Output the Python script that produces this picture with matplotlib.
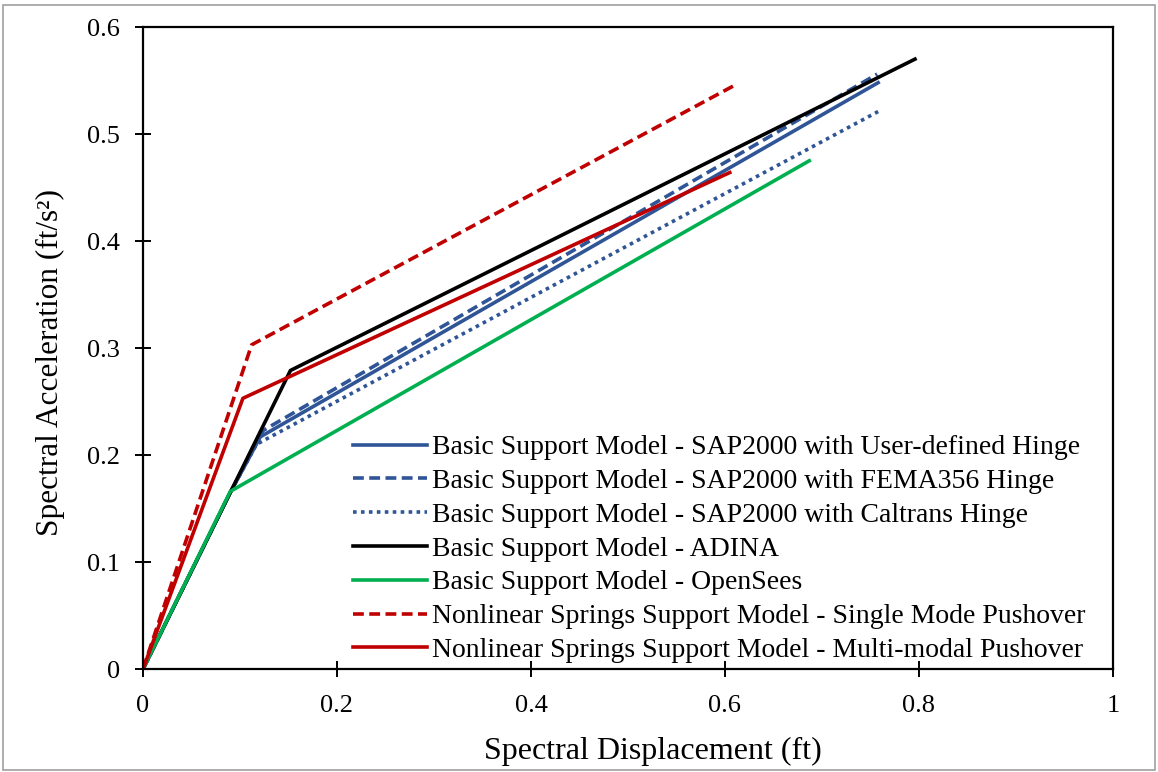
import matplotlib
matplotlib.use("Agg")
import matplotlib.pyplot as plt
from matplotlib.patches import Rectangle

plt.rcParams['font.family'] = ['Liberation Serif', 'DejaVu Serif']

# Pushover curves (x: spectral displacement ft, y: spectral acceleration ft/s^2)
sap_user_x = [0, 0.090, 0.121, 0.758]
sap_user_y = [0, 0.165, 0.217, 0.548]
sap_fema_x = [0, 0.090, 0.124, 0.757]
sap_fema_y = [0, 0.165, 0.223, 0.556]
sap_caltrans_x = [0, 0.090, 0.117, 0.758]
sap_caltrans_y = [0, 0.165, 0.210, 0.521]
adina_x = [0, 0.090, 0.152, 0.796]
adina_y = [0, 0.165, 0.279, 0.570]
opensees_x = [0, 0.090, 0.687]
opensees_y = [0, 0.166, 0.475]
single_mode_x = [0, 0.112, 0.613]
single_mode_y = [0, 0.303, 0.547]
multi_modal_x = [0, 0.103, 0.605]
multi_modal_y = [0, 0.253, 0.464]

labels = [
    'Basic Support Model - SAP2000 with User-defined Hinge',
    'Basic Support Model - SAP2000 with FEMA356 Hinge',
    'Basic Support Model - SAP2000 with Caltrans Hinge',
    'Basic Support Model - ADINA',
    'Basic Support Model - OpenSees',
    'Nonlinear Springs Support Model - Single Mode Pushover',
    'Nonlinear Springs Support Model - Multi-modal Pushover',
]

blue = '#2F5597'
green = '#00B050'
red = '#C00000'
lw = 2.6

fig = plt.figure(figsize=(11.58, 7.72), dpi=100)
ax = fig.add_axes([0.1235, 0.1334, 0.8375, 0.8316])

ax.plot(sap_user_x, sap_user_y, color=blue, lw=lw, label=labels[0])
ax.plot(sap_fema_x, sap_fema_y, color=blue, lw=lw, ls=(0, (3, 1.5)), label=labels[1])
ax.plot(sap_caltrans_x, sap_caltrans_y, color=blue, lw=lw, ls=(0, (1, 1.2)), label=labels[2])
ax.plot(adina_x, adina_y, color='black', lw=lw, label=labels[3])
ax.plot(opensees_x, opensees_y, color=green, lw=lw, label=labels[4])
ax.plot(single_mode_x, single_mode_y, color=red, lw=lw, ls=(0, (3, 1.5)), label=labels[5])
ax.plot(multi_modal_x, multi_modal_y, color=red, lw=lw, label=labels[6])

ax.set_xlim(0, 1)
ax.set_ylim(0, 0.6)
ax.set_xticks([0, 0.2, 0.4, 0.6, 0.8, 1])
ax.set_xticklabels(['0', '0.2', '0.4', '0.6', '0.8', '1'])
ax.set_yticks([0, 0.1, 0.2, 0.3, 0.4, 0.5, 0.6])
ax.set_yticklabels(['0', '0.1', '0.2', '0.3', '0.4', '0.5', '0.6'])
ax.tick_params(direction='inout', length=11, width=1.4, labelsize=19)
ax.tick_params(axis='x', pad=13)
ax.tick_params(axis='y', pad=11)
for s in ax.spines.values():
    s.set_linewidth(1.6)

ax.set_xlabel('Spectral Displacement (ft)', fontsize=23)
ax.set_ylabel('Spectral Acceleration (ft/s²)', fontsize=22.5)
ax.xaxis.set_label_coords(0.526, -0.106)
ax.yaxis.set_label_coords(-0.08, 0.477)

ax.legend(loc='lower right', bbox_to_anchor=(0.975, 0.005), frameon=False,
          fontsize=20, handlelength=2.65, handletextpad=0.2, labelspacing=0.3,
          borderpad=0.1, borderaxespad=0)

fig.patches.append(Rectangle((0.003, 0.003), 0.994, 0.991, transform=fig.transFigure,
                             fill=False, edgecolor='#A0A0A0', lw=1.2))

plt.savefig('out.png', dpi=100)
